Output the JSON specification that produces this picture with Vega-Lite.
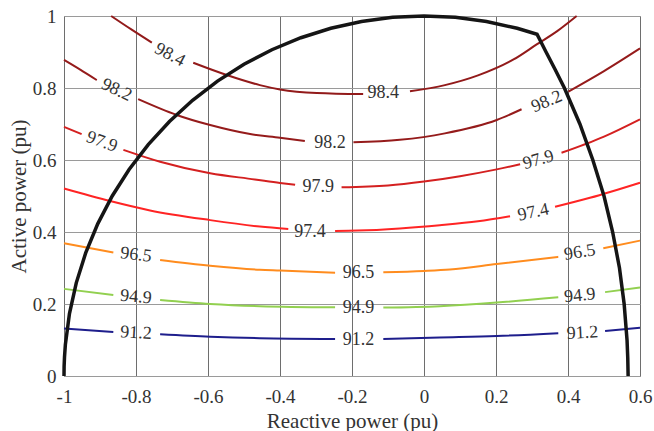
{
  "$schema": "https://vega.github.io/schema/vega-lite/v6.json",
  "width": 576,
  "height": 360,
  "autosize": {"type": "none"},
  "padding": {"left": 64, "top": 16, "right": 14, "bottom": 55},
  "background": "white",
  "config": {"view": {"stroke": "#999999", "strokeWidth": 1}, "font": "Liberation Serif, Times New Roman, serif"},
  "datasets": {
    "contours": [
      {"level": "98.4", "seg": 1, "x": -0.869, "y": 1.0},
      {"level": "98.4", "seg": 1, "x": -0.812, "y": 0.962},
      {"level": "98.4", "seg": 1, "x": -0.756, "y": 0.926},
      {"level": "98.4", "seg": 2, "x": -0.641, "y": 0.870},
      {"level": "98.4", "seg": 2, "x": -0.548, "y": 0.836},
      {"level": "98.4", "seg": 2, "x": -0.456, "y": 0.808},
      {"level": "98.4", "seg": 2, "x": -0.4, "y": 0.796},
      {"level": "98.4", "seg": 2, "x": -0.298, "y": 0.786},
      {"level": "98.4", "seg": 2, "x": -0.169, "y": 0.783},
      {"level": "98.4", "seg": 3, "x": -0.039, "y": 0.791},
      {"level": "98.4", "seg": 3, "x": 0.058, "y": 0.808},
      {"level": "98.4", "seg": 3, "x": 0.15, "y": 0.835},
      {"level": "98.4", "seg": 3, "x": 0.25, "y": 0.880},
      {"level": "98.4", "seg": 3, "x": 0.313, "y": 0.921},
      {"level": "98.4", "seg": 3, "x": 0.37, "y": 0.958},
      {"level": "98.4", "seg": 3, "x": 0.424, "y": 1.0},
      {"level": "98.2", "seg": 1, "x": -1.0, "y": 0.878},
      {"level": "98.2", "seg": 1, "x": -0.955, "y": 0.851},
      {"level": "98.2", "seg": 1, "x": -0.909, "y": 0.822},
      {"level": "98.2", "seg": 2, "x": -0.794, "y": 0.769},
      {"level": "98.2", "seg": 2, "x": -0.687, "y": 0.725},
      {"level": "98.2", "seg": 2, "x": -0.594, "y": 0.697},
      {"level": "98.2", "seg": 2, "x": -0.483, "y": 0.672},
      {"level": "98.2", "seg": 2, "x": -0.4, "y": 0.662},
      {"level": "98.2", "seg": 2, "x": -0.331, "y": 0.653},
      {"level": "98.2", "seg": 3, "x": -0.196, "y": 0.649},
      {"level": "98.2", "seg": 3, "x": -0.067, "y": 0.656},
      {"level": "98.2", "seg": 3, "x": 0.058, "y": 0.674},
      {"level": "98.2", "seg": 3, "x": 0.202, "y": 0.711},
      {"level": "98.2", "seg": 3, "x": 0.271, "y": 0.741},
      {"level": "98.2", "seg": 4, "x": 0.401, "y": 0.790},
      {"level": "98.2", "seg": 4, "x": 0.5, "y": 0.847},
      {"level": "98.2", "seg": 4, "x": 0.6, "y": 0.910},
      {"level": "97.9", "seg": 1, "x": -1.0, "y": 0.692},
      {"level": "97.9", "seg": 1, "x": -0.951, "y": 0.672},
      {"level": "97.9", "seg": 2, "x": -0.835, "y": 0.628},
      {"level": "97.9", "seg": 2, "x": -0.733, "y": 0.595},
      {"level": "97.9", "seg": 2, "x": -0.594, "y": 0.563},
      {"level": "97.9", "seg": 2, "x": -0.47, "y": 0.546},
      {"level": "97.9", "seg": 2, "x": -0.4, "y": 0.536},
      {"level": "97.9", "seg": 2, "x": -0.358, "y": 0.531},
      {"level": "97.9", "seg": 3, "x": -0.229, "y": 0.524},
      {"level": "97.9", "seg": 3, "x": -0.1, "y": 0.529},
      {"level": "97.9", "seg": 3, "x": 0.0, "y": 0.540},
      {"level": "97.9", "seg": 3, "x": 0.1, "y": 0.555},
      {"level": "97.9", "seg": 3, "x": 0.202, "y": 0.574},
      {"level": "97.9", "seg": 3, "x": 0.267, "y": 0.588},
      {"level": "97.9", "seg": 4, "x": 0.382, "y": 0.620},
      {"level": "97.9", "seg": 4, "x": 0.5, "y": 0.665},
      {"level": "97.9", "seg": 4, "x": 0.6, "y": 0.713},
      {"level": "97.4", "seg": 1, "x": -1.0, "y": 0.521},
      {"level": "97.4", "seg": 1, "x": -0.872, "y": 0.486},
      {"level": "97.4", "seg": 1, "x": -0.761, "y": 0.460},
      {"level": "97.4", "seg": 1, "x": -0.594, "y": 0.433},
      {"level": "97.4", "seg": 1, "x": -0.456, "y": 0.415},
      {"level": "97.4", "seg": 1, "x": -0.377, "y": 0.408},
      {"level": "97.4", "seg": 2, "x": -0.247, "y": 0.403},
      {"level": "97.4", "seg": 2, "x": -0.185, "y": 0.404},
      {"level": "97.4", "seg": 2, "x": -0.067, "y": 0.410},
      {"level": "97.4", "seg": 2, "x": 0.044, "y": 0.419},
      {"level": "97.4", "seg": 2, "x": 0.15, "y": 0.430},
      {"level": "97.4", "seg": 2, "x": 0.239, "y": 0.444},
      {"level": "97.4", "seg": 3, "x": 0.364, "y": 0.470},
      {"level": "97.4", "seg": 3, "x": 0.461, "y": 0.495},
      {"level": "97.4", "seg": 3, "x": 0.6, "y": 0.537},
      {"level": "96.5", "seg": 1, "x": -1.0, "y": 0.369},
      {"level": "96.5", "seg": 1, "x": -0.863, "y": 0.343},
      {"level": "96.5", "seg": 2, "x": -0.733, "y": 0.322},
      {"level": "96.5", "seg": 2, "x": -0.594, "y": 0.306},
      {"level": "96.5", "seg": 2, "x": -0.456, "y": 0.295},
      {"level": "96.5", "seg": 2, "x": -0.4, "y": 0.293},
      {"level": "96.5", "seg": 2, "x": -0.247, "y": 0.287},
      {"level": "96.5", "seg": 3, "x": -0.113, "y": 0.288},
      {"level": "96.5", "seg": 3, "x": 0.0, "y": 0.292},
      {"level": "96.5", "seg": 3, "x": 0.072, "y": 0.296},
      {"level": "96.5", "seg": 3, "x": 0.202, "y": 0.311},
      {"level": "96.5", "seg": 3, "x": 0.373, "y": 0.331},
      {"level": "96.5", "seg": 4, "x": 0.498, "y": 0.355},
      {"level": "96.5", "seg": 4, "x": 0.6, "y": 0.376},
      {"level": "94.9", "seg": 1, "x": -1.0, "y": 0.242},
      {"level": "94.9", "seg": 1, "x": -0.863, "y": 0.225},
      {"level": "94.9", "seg": 2, "x": -0.733, "y": 0.211},
      {"level": "94.9", "seg": 2, "x": -0.594, "y": 0.200},
      {"level": "94.9", "seg": 2, "x": -0.456, "y": 0.194},
      {"level": "94.9", "seg": 2, "x": -0.247, "y": 0.191},
      {"level": "94.9", "seg": 3, "x": -0.113, "y": 0.190},
      {"level": "94.9", "seg": 3, "x": 0.044, "y": 0.194},
      {"level": "94.9", "seg": 3, "x": 0.202, "y": 0.204},
      {"level": "94.9", "seg": 3, "x": 0.373, "y": 0.219},
      {"level": "94.9", "seg": 4, "x": 0.503, "y": 0.233},
      {"level": "94.9", "seg": 4, "x": 0.6, "y": 0.246},
      {"level": "91.2", "seg": 1, "x": -1.0, "y": 0.132},
      {"level": "91.2", "seg": 1, "x": -0.863, "y": 0.122},
      {"level": "91.2", "seg": 2, "x": -0.733, "y": 0.116},
      {"level": "91.2", "seg": 2, "x": -0.594, "y": 0.109},
      {"level": "91.2", "seg": 2, "x": -0.456, "y": 0.105},
      {"level": "91.2", "seg": 2, "x": -0.247, "y": 0.103},
      {"level": "91.2", "seg": 3, "x": -0.113, "y": 0.103},
      {"level": "91.2", "seg": 3, "x": 0.044, "y": 0.107},
      {"level": "91.2", "seg": 3, "x": 0.202, "y": 0.111},
      {"level": "91.2", "seg": 3, "x": 0.373, "y": 0.119},
      {"level": "91.2", "seg": 4, "x": 0.503, "y": 0.125},
      {"level": "91.2", "seg": 4, "x": 0.6, "y": 0.134}
    ],
    "labels": [
      {"level": "98.4", "side": "L", "x": -0.706, "y": 0.892},
      {"level": "98.4", "side": "M", "x": -0.113, "y": 0.785},
      {"level": "98.2", "side": "L", "x": -0.854, "y": 0.794},
      {"level": "98.2", "side": "M", "x": -0.261, "y": 0.648},
      {"level": "98.2", "side": "R", "x": 0.341, "y": 0.762},
      {"level": "97.9", "side": "L", "x": -0.895, "y": 0.650},
      {"level": "97.9", "side": "M", "x": -0.294, "y": 0.526},
      {"level": "97.9", "side": "R", "x": 0.318, "y": 0.600},
      {"level": "97.4", "side": "M", "x": -0.317, "y": 0.401},
      {"level": "97.4", "side": "R", "x": 0.304, "y": 0.454},
      {"level": "96.5", "side": "L", "x": -0.8, "y": 0.336},
      {"level": "96.5", "side": "M", "x": -0.182, "y": 0.287},
      {"level": "96.5", "side": "R", "x": 0.433, "y": 0.343},
      {"level": "94.9", "side": "L", "x": -0.8, "y": 0.219},
      {"level": "94.9", "side": "M", "x": -0.182, "y": 0.188},
      {"level": "94.9", "side": "R", "x": 0.433, "y": 0.223},
      {"level": "91.2", "side": "L", "x": -0.8, "y": 0.119},
      {"level": "91.2", "side": "M", "x": -0.182, "y": 0.100},
      {"level": "91.2", "side": "R", "x": 0.44, "y": 0.119}
    ],
    "boundary": [
      {"x": -1.0, "y": 0.0},
      {"x": -0.9997, "y": 0.0262},
      {"x": -0.9986, "y": 0.0523},
      {"x": -0.9962, "y": 0.0872},
      {"x": -0.9848, "y": 0.1736},
      {"x": -0.9659, "y": 0.2588},
      {"x": -0.9397, "y": 0.3420},
      {"x": -0.9063, "y": 0.4226},
      {"x": -0.8660, "y": 0.5},
      {"x": -0.8192, "y": 0.5736},
      {"x": -0.7660, "y": 0.6428},
      {"x": -0.7071, "y": 0.7071},
      {"x": -0.6428, "y": 0.7660},
      {"x": -0.5736, "y": 0.8192},
      {"x": -0.5, "y": 0.8660},
      {"x": -0.4226, "y": 0.9063},
      {"x": -0.3420, "y": 0.9397},
      {"x": -0.2588, "y": 0.9659},
      {"x": -0.1736, "y": 0.9848},
      {"x": -0.0872, "y": 0.9962},
      {"x": 0.0, "y": 1.0},
      {"x": 0.0872, "y": 0.9962},
      {"x": 0.1736, "y": 0.9848},
      {"x": 0.2588, "y": 0.9659},
      {"x": 0.314, "y": 0.9494},
      {"x": 0.339, "y": 0.9},
      {"x": 0.365, "y": 0.85},
      {"x": 0.390, "y": 0.8},
      {"x": 0.433, "y": 0.7},
      {"x": 0.469, "y": 0.6},
      {"x": 0.500, "y": 0.5},
      {"x": 0.524, "y": 0.4},
      {"x": 0.543, "y": 0.3},
      {"x": 0.556, "y": 0.2},
      {"x": 0.564, "y": 0.1},
      {"x": 0.566, "y": 0.05},
      {"x": 0.567, "y": 0.0}
    ]
  },
  "encoding": {
    "x": {
      "field": "x", "type": "quantitative",
      "scale": {"domain": [-1, 0.6], "nice": false, "zero": false},
      "axis": {
        "title": "Reactive power (pu)",
        "values": [-1, -0.8, -0.6, -0.4, -0.2, 0, 0.2, 0.4, 0.6],
        "labelExpr": "'' + datum.value",
        "grid": true, "gridColor": "#6e6e6e", "gridOpacity": 1, "gridWidth": 1,
        "domain": false, "ticks": false,
        "labelFlush": false, "labelOverlap": false,
        "labelFont": "Liberation Serif, Times New Roman, serif", "labelFontSize": 19, "labelColor": "#333333", "labelPadding": 11,
        "titleFont": "Liberation Serif, Times New Roman, serif", "titleFontSize": 21, "titleFontWeight": "normal", "titleColor": "#333333", "titlePadding": 4
      }
    },
    "y": {
      "field": "y", "type": "quantitative",
      "scale": {"domain": [0, 1], "nice": false, "zero": false},
      "axis": {
        "title": "Active power (pu)",
        "values": [0, 0.2, 0.4, 0.6, 0.8, 1],
        "labelExpr": "'' + datum.value",
        "grid": true, "gridColor": "#9a9a9a", "gridOpacity": 1, "gridWidth": 1,
        "domain": false, "ticks": false,
        "labelFlush": false, "labelOverlap": false,
        "labelFont": "Liberation Serif, Times New Roman, serif", "labelFontSize": 19, "labelColor": "#333333", "labelPadding": 8,
        "titleFont": "Liberation Serif, Times New Roman, serif", "titleFontSize": 21, "titleFontWeight": "normal", "titleColor": "#333333", "titlePadding": 3
      }
    }
  },
  "layer": [
    {
      "data": {"name": "contours"},
      "mark": {"type": "line", "strokeWidth": 2, "interpolate": "monotone"},
      "encoding": {
        "color": {
          "field": "level", "type": "nominal",
          "scale": {"domain": ["98.4", "98.2", "97.9", "97.4", "96.5", "94.9", "91.2"],
                    "range": ["#921a1a", "#951b1b", "#d42020", "#ff2424", "#ff8c1e", "#92d050", "#1e1e8c"]},
          "legend": null
        },
        "detail": {"field": "seg", "type": "nominal"}
      }
    },
    {
      "data": {"name": "boundary"},
      "mark": {"type": "line", "color": "#151515", "strokeWidth": 3.5},
      "encoding": {}
    },
    {"data": {"name": "labels"}, "transform": [{"filter": "datum.side == 'M'"}],
     "mark": {"type": "text", "font": "Liberation Serif, Times New Roman, serif", "fontSize": 18, "color": "#333333", "align": "center", "baseline": "middle", "angle": 0}, "encoding": {"text": {"field": "level"}}},
    {"data": {"name": "labels"}, "transform": [{"filter": "datum.side == 'L' && datum.level == '98.4'"}],
     "mark": {"type": "text", "font": "Liberation Serif, Times New Roman, serif", "fontSize": 18, "color": "#333333", "align": "center", "baseline": "middle", "angle": 28}, "encoding": {"text": {"field": "level"}}},
    {"data": {"name": "labels"}, "transform": [{"filter": "datum.side == 'L' && datum.level == '98.2'"}],
     "mark": {"type": "text", "font": "Liberation Serif, Times New Roman, serif", "fontSize": 18, "color": "#333333", "align": "center", "baseline": "middle", "angle": 25}, "encoding": {"text": {"field": "level"}}},
    {"data": {"name": "labels"}, "transform": [{"filter": "datum.side == 'L' && datum.level == '97.9'"}],
     "mark": {"type": "text", "font": "Liberation Serif, Times New Roman, serif", "fontSize": 18, "color": "#333333", "align": "center", "baseline": "middle", "angle": 20}, "encoding": {"text": {"field": "level"}}},
    {"data": {"name": "labels"}, "transform": [{"filter": "datum.side == 'L' && datum.level == '96.5'"}],
     "mark": {"type": "text", "font": "Liberation Serif, Times New Roman, serif", "fontSize": 18, "color": "#333333", "align": "center", "baseline": "middle", "angle": 7}, "encoding": {"text": {"field": "level"}}},
    {"data": {"name": "labels"}, "transform": [{"filter": "datum.side == 'L' && datum.level == '94.9'"}],
     "mark": {"type": "text", "font": "Liberation Serif, Times New Roman, serif", "fontSize": 18, "color": "#333333", "align": "center", "baseline": "middle", "angle": 5}, "encoding": {"text": {"field": "level"}}},
    {"data": {"name": "labels"}, "transform": [{"filter": "datum.side == 'L' && datum.level == '91.2'"}],
     "mark": {"type": "text", "font": "Liberation Serif, Times New Roman, serif", "fontSize": 18, "color": "#333333", "align": "center", "baseline": "middle", "angle": 3}, "encoding": {"text": {"field": "level"}}},
    {"data": {"name": "labels"}, "transform": [{"filter": "datum.side == 'R' && datum.level == '98.2'"}],
     "mark": {"type": "text", "font": "Liberation Serif, Times New Roman, serif", "fontSize": 18, "color": "#333333", "align": "center", "baseline": "middle", "angle": -23}, "encoding": {"text": {"field": "level"}}},
    {"data": {"name": "labels"}, "transform": [{"filter": "datum.side == 'R' && datum.level == '97.9'"}],
     "mark": {"type": "text", "font": "Liberation Serif, Times New Roman, serif", "fontSize": 18, "color": "#333333", "align": "center", "baseline": "middle", "angle": -16}, "encoding": {"text": {"field": "level"}}},
    {"data": {"name": "labels"}, "transform": [{"filter": "datum.side == 'R' && datum.level == '97.4'"}],
     "mark": {"type": "text", "font": "Liberation Serif, Times New Roman, serif", "fontSize": 18, "color": "#333333", "align": "center", "baseline": "middle", "angle": -12}, "encoding": {"text": {"field": "level"}}},
    {"data": {"name": "labels"}, "transform": [{"filter": "datum.side == 'R' && datum.level == '96.5'"}],
     "mark": {"type": "text", "font": "Liberation Serif, Times New Roman, serif", "fontSize": 18, "color": "#333333", "align": "center", "baseline": "middle", "angle": -9}, "encoding": {"text": {"field": "level"}}},
    {"data": {"name": "labels"}, "transform": [{"filter": "datum.side == 'R' && datum.level == '94.9'"}],
     "mark": {"type": "text", "font": "Liberation Serif, Times New Roman, serif", "fontSize": 18, "color": "#333333", "align": "center", "baseline": "middle", "angle": -6}, "encoding": {"text": {"field": "level"}}},
    {"data": {"name": "labels"}, "transform": [{"filter": "datum.side == 'R' && datum.level == '91.2'"}],
     "mark": {"type": "text", "font": "Liberation Serif, Times New Roman, serif", "fontSize": 18, "color": "#333333", "align": "center", "baseline": "middle", "angle": -3}, "encoding": {"text": {"field": "level"}}}
  ]
}
